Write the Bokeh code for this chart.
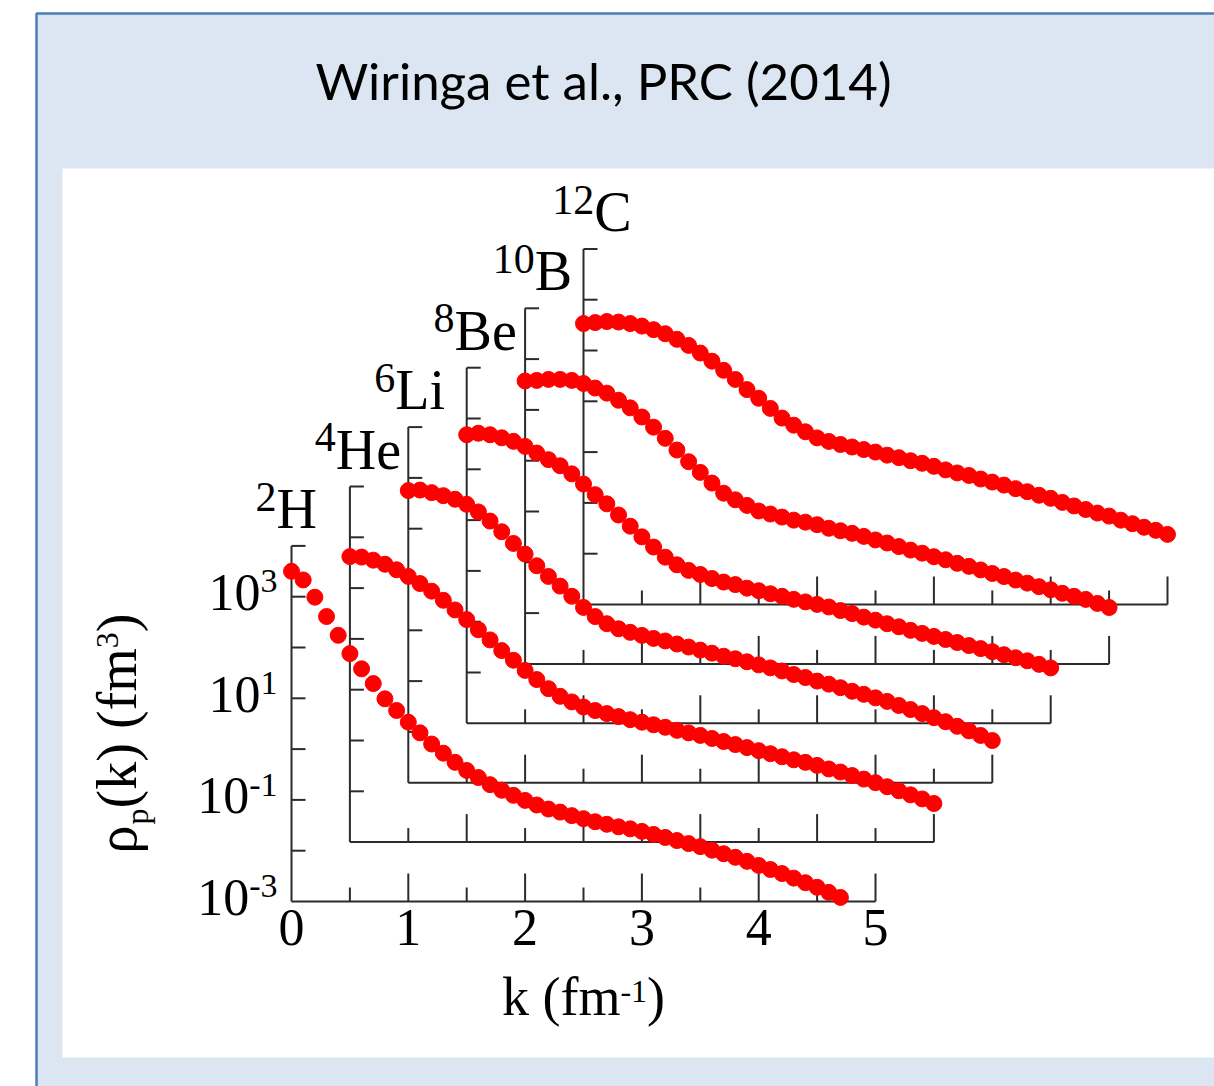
import math
from bokeh.plotting import figure
from bokeh.models import Range1d
from bokeh.core.properties import value
from bokeh.embed import file_html
from bokeh.resources import INLINE

# ---------------- data ----------------
nuclei = ["2H", "4He", "6Li", "8Be", "10B", "12C"]
mass_numbers = ["2", "4", "6", "8", "10", "12"]
symbols = ["H", "He", "Li", "Be", "B", "C"]

k_fm = [0.0, 0.1, 0.2, 0.3, 0.4, 0.5, 0.6, 0.7, 0.8, 0.9,
        1.0, 1.1, 1.2, 1.3, 1.4, 1.5, 1.6, 1.7, 1.8, 1.9,
        2.0, 2.1, 2.2, 2.3, 2.4, 2.5, 2.6, 2.7, 2.8, 2.9,
        3.0, 3.1, 3.2, 3.3, 3.4, 3.5, 3.6, 3.7, 3.8, 3.9,
        4.0, 4.1, 4.2, 4.3, 4.4, 4.5, 4.6, 4.7, 4.8, 4.9, 5.0]

# log10 of rho_p(k) in fm^3
log_rho_2H = [3.50, 3.33, 2.99, 2.61, 2.24, 1.88, 1.58, 1.29, 0.99, 0.76,
              0.53, 0.32, 0.10, -0.08, -0.26, -0.42, -0.56, -0.70, -0.81, -0.91,
              -1.01, -1.10, -1.18, -1.24, -1.31, -1.37, -1.43, -1.48, -1.53, -1.57,
              -1.62, -1.68, -1.74, -1.80, -1.86, -1.92, -1.99, -2.06, -2.13, -2.21,
              -2.29, -2.37, -2.45, -2.54, -2.63, -2.72, -2.82, -2.92]
log_rho_4He = [2.62, 2.61, 2.55, 2.47, 2.36, 2.23, 2.09, 1.94, 1.76, 1.57,
               1.38, 1.18, 0.98, 0.77, 0.58, 0.38, 0.20, 0.02, -0.13, -0.24,
               -0.34, -0.41, -0.47, -0.53, -0.59, -0.64, -0.69, -0.74, -0.80, -0.85,
               -0.90, -0.96, -1.02, -1.08, -1.14, -1.20, -1.26, -1.32, -1.38, -1.43,
               -1.49, -1.56, -1.62, -1.69, -1.76, -1.83, -1.91, -1.99, -2.07, -2.15,
               -2.24]
log_rho_6Li = [2.75, 2.76, 2.71, 2.65, 2.58, 2.48, 2.33, 2.15, 1.94, 1.71,
               1.50, 1.27, 1.06, 0.87, 0.67, 0.45, 0.27, 0.13, 0.03, -0.04,
               -0.10, -0.16, -0.21, -0.27, -0.33, -0.39, -0.45, -0.51, -0.56, -0.62,
               -0.68, -0.74, -0.80, -0.87, -0.93, -1.00, -1.06, -1.13, -1.20, -1.26,
               -1.33, -1.40, -1.48, -1.56, -1.64, -1.72, -1.80, -1.89, -1.98, -2.07,
               -2.17]
log_rho_8Be = [2.68, 2.71, 2.68, 2.62, 2.55, 2.45, 2.32, 2.19, 2.07, 1.91,
               1.71, 1.50, 1.32, 1.10, 0.88, 0.67, 0.47, 0.27, 0.12, 0.01,
               -0.07, -0.15, -0.22, -0.27, -0.34, -0.39, -0.45, -0.50, -0.56, -0.61,
               -0.66, -0.71, -0.78, -0.84, -0.91, -0.97, -1.04, -1.10, -1.17, -1.23,
               -1.29, -1.35, -1.41, -1.47, -1.53, -1.59, -1.65, -1.71, -1.77, -1.84,
               -1.91]
log_rho_10B = [2.57, 2.58, 2.60, 2.60, 2.58, 2.52, 2.43, 2.33, 2.19, 2.04,
               1.86, 1.66, 1.44, 1.21, 0.98, 0.77, 0.56, 0.36, 0.23, 0.12,
               0.01, -0.05, -0.11, -0.17, -0.21, -0.26, -0.33, -0.38, -0.43, -0.49,
               -0.56, -0.62, -0.69, -0.76, -0.82, -0.89, -0.95, -1.02, -1.08, -1.15,
               -1.22, -1.28, -1.35, -1.41, -1.48, -1.54, -1.61, -1.67, -1.73, -1.81,
               -1.89]
log_rho_12C = [2.53, 2.55, 2.57, 2.56, 2.53, 2.48, 2.41, 2.33, 2.22, 2.10,
               1.95, 1.79, 1.61, 1.43, 1.23, 1.06, 0.86, 0.67, 0.53, 0.40,
               0.28, 0.21, 0.15, 0.10, 0.05, 0.00, -0.06, -0.11, -0.17, -0.22,
               -0.28, -0.35, -0.41, -0.46, -0.53, -0.59, -0.65, -0.72, -0.78, -0.85,
               -0.91, -0.99, -1.06, -1.13, -1.20, -1.26, -1.34, -1.41, -1.48, -1.54,
               -1.62]
series = [log_rho_2H, log_rho_4He, log_rho_6Li, log_rho_8Be, log_rho_10B, log_rho_12C]

x_tick_values = [0, 1, 2, 3, 4, 5]
x_tick_labels = ["0", "1", "2", "3", "4", "5"]
y_tick_exponents = [-3, -1, 1, 3]
y_tick_exp_labels = ["-3", "-1", "1", "3"]
title_text = "Wiringa et al., PRC (2014)"

# ---------------- layout ----------------
W, H = 1214, 1086
PX_PER_K = 116.8
PX_PER_DEC = 50.8
K0_PX = 291.0
BASE_PY = 901.0
LOGMIN, LOGMAX = -3, 4
KMAX = 5.0
K_SHIFT = 0.5
DEC_SHIFT = 59.4 / PX_PER_DEC
BASELINE_FIX = 0.39  # em, renderer places the alphabetic baseline this much low

SERIF = "Liberation Serif"
AXIS_COLOR = "#2b2b2b"
DOT_COLOR = "#ff0000"


def kx(px):
    return (px - K0_PX) / PX_PER_K


def ly(py):
    return LOGMIN + (BASE_PY - py) / PX_PER_DEC


def dk(px):
    return px / PX_PER_K


def dl(px):
    return px / PX_PER_DEC


def tw(s, size):
    widths = {"-": 0.333, " ": 0.25, "(": 0.333, ")": 0.333, "k": 0.5, "f": 0.333,
              "m": 0.778, "p": 0.5, "ρ": 0.52}
    return sum(widths.get(c, 0.5) for c in s) * size


p = figure(width=W, height=H, x_range=Range1d(kx(0), kx(W)), y_range=Range1d(ly(H), ly(0)),
           output_backend="svg", toolbar_location=None,
           x_axis_location=None, y_axis_location=None, min_border=0)
p.outline_line_color = None
p.background_fill_color = "white"
p.border_fill_color = "white"
p.grid.visible = False


def put_text(x, y, text, size, align="left", font=SERIF, rotated=False):
    n = len(text)
    if rotated:
        xs = [v - dk(BASELINE_FIX * size) for v in x]
        ys = list(y)
        ang = math.pi / 2
    else:
        xs = list(x)
        ys = [v + dl(BASELINE_FIX * size) for v in y]
        ang = 0.0
    p.text(x=xs, y=ys, text=list(text), text_font=value(font), text_font_size=f"{size}px",
           text_align=align, text_baseline="alphabetic", angle=ang, text_color="black")


# slide panel
p.quad(left=[kx(36)], right=[kx(W + 30)], top=[ly(13)], bottom=[ly(H + 30)],
       fill_color="#dce6f2", line_color="#4a7ebb", line_width=2.5)
p.quad(left=[kx(62)], right=[kx(W + 30)], top=[ly(168)], bottom=[ly(1057)],
       fill_color="white", line_color=None)

put_text([kx(603)], [ly(100)], [title_text], 51, align="center", font="Lato")

# frames
x0, y0, x1, y1 = [], [], [], []
for i in range(len(nuclei)):
    ox, oy = i * K_SHIFT, i * DEC_SHIFT
    base = LOGMIN + oy
    x0 += [ox, ox]; y0 += [base, base]; x1 += [ox + KMAX, ox]; y1 += [base, LOGMAX + oy]
    for j in range(1, 11):
        t = 0.5 * j
        L = 28 if j % 2 == 0 else 14
        x0.append(ox + t); y0.append(base); x1.append(ox + t); y1.append(base + dl(L))
    for d in range(LOGMIN + 1, LOGMAX + 1):
        x0.append(ox); y0.append(d + oy); x1.append(ox + dk(14)); y1.append(d + oy)
p.segment(x0=x0, y0=y0, x1=x1, y1=y1, line_color=AXIS_COLOR, line_width=2)

# data points
for i, vals in enumerate(series):
    ox, oy = i * K_SHIFT, i * DEC_SHIFT
    xs = [k + ox for k in k_fm[:len(vals)]]
    ys = [v + oy for v in vals]
    p.scatter(xs, ys, marker="circle", size=16, fill_color=DOT_COLOR, line_color=DOT_COLOR)

# nucleus labels
for i in range(len(nuclei)):
    ox, oy = i * K_SHIFT, i * DEC_SHIFT
    xl = ox - 0.308 + 0.008 * i
    yb = LOGMAX + oy + dl(15)
    put_text([xl], [yb + dl(18)], [mass_numbers[i]], 42)
    put_text([xl + dk(tw(mass_numbers[i], 42))], [yb], [symbols[i]], 56)

# y tick labels (2H frame)
for e, lab in zip(y_tick_exponents, y_tick_exp_labels):
    supw = tw(lab, 34)
    xa = 0 - dk(14 + supw)
    put_text([xa], [e - dl(16)], ["10"], 52, align="right")
    put_text([xa], [e + dl(2)], [lab], 34, align="left")

# x tick labels
put_text(x_tick_values, [LOGMIN - dl(46)] * len(x_tick_values), x_tick_labels, 52, align="center")

# x axis label: k (fm^-1)
xa_main, xa_sup, xa_end = "k (fm", "-1", ")"
total = tw(xa_main, 54) + tw(xa_sup, 32) + tw(xa_end, 54)
xs0 = KMAX / 2 - dk(total / 2)
yb = LOGMIN - dl(1018 - BASE_PY)
put_text([xs0], [yb], [xa_main], 54)
put_text([xs0 + dk(tw(xa_main, 54))], [yb + dl(15)], [xa_sup], 32)
put_text([xs0 + dk(tw(xa_main, 54) + tw(xa_sup, 32))], [yb], [xa_end], 54)

# y axis label: rho_p(k) (fm^3), rotated
F, f = 56, 32
parts = [("ρ", F, 0), ("p", f, 11), ("(k) (fm", F, 0), ("3", f, -19), (")", F, 0)]
ycur = ly(853)
xbase = kx(138)
for txt, size, shift in parts:
    put_text([xbase + dk(shift)], [ycur], [txt], size, rotated=True)
    ycur += dl(tw(txt, size))

open("out.html", "w").write(file_html(p, INLINE))
